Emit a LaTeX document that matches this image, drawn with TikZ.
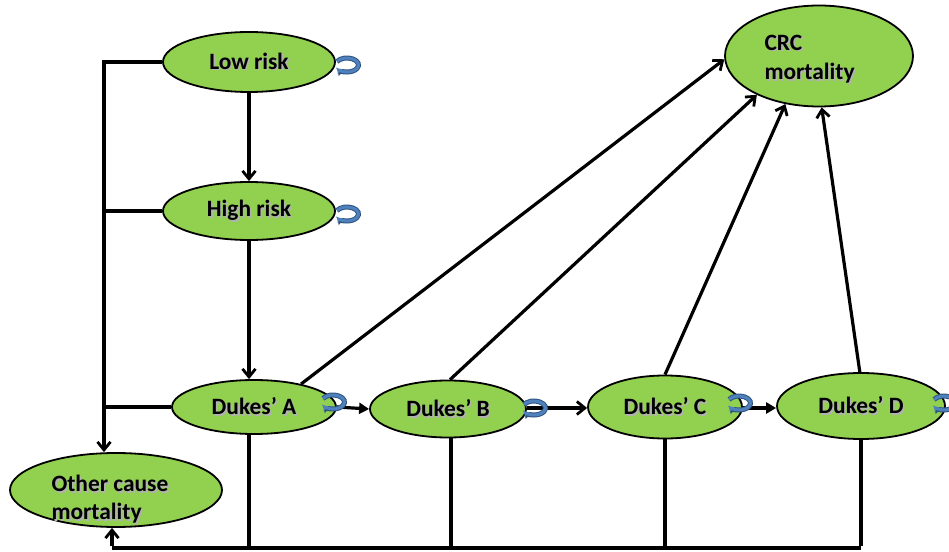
\documentclass[tikz,border=0pt]{standalone}
\usepackage{fontspec}
\setmainfont{Carlito}
\usetikzlibrary{arrows.meta,shapes.geometric,calc}
\definecolor{stategreen}{HTML}{92D050}
\definecolor{loopblue}{HTML}{4F81BD}
\definecolor{loopedge}{HTML}{2F5482}
% bold label with a soft drop shadow
\newcommand\shd[1]{\leavevmode\rlap{\kern1.6bp\raisebox{-1.6bp}{\textcolor{black!30}{#1}}}#1}
\tikzset{
  state/.style={ellipse,draw=black,line width=1.8bp,fill=stategreen,inner sep=0pt,
    font=\bfseries\fontsize{23.5}{28}\selectfont,text=black},
  link/.style={line width=3.2bp,draw=black},
  arr/.style={link,-{Straight Barb[length=8bp,width=13bp,line width=2.8bp]}},
  arrf/.style={link,-{Triangle[length=10bp,width=11bp]}},
}
% small circular self-transition arrow centred at #1
\newcommand\selfloop[1]{%
  \draw[line width=5bp,loopedge,-{Triangle[length=5.5bp,width=9bp]}]
    ($#1+(150:11.5bp and 7bp)$) arc[start angle=150,end angle=-145,x radius=11.5bp,y radius=7bp];
  \draw[line width=3bp,loopblue,-{Triangle[length=4bp,width=6.5bp]}]
    ($#1+(150:11.5bp and 7bp)$) arc[start angle=150,end angle=-148,x radius=11.5bp,y radius=7bp];
}
\begin{document}
\begin{tikzpicture}[x=1bp,y=-1bp]
\useasboundingbox (0,0) rectangle (949,552);

% states
\node[state,minimum width=172bp,minimum height=60bp] (lr) at (249,62) {\shd{Low risk}};
\node[state,minimum width=172bp,minimum height=58bp] (hr) at (249,211) {\shd{High risk}};
\node[state,minimum width=164bp,minimum height=54bp] (da) at (254,407) {\shd{Dukes’ A}};
\node[state,minimum width=156bp,minimum height=57bp] (db) at (448,409) {\shd{Dukes’ B}};
\node[state,minimum width=154bp,minimum height=63bp] (dc) at (665,407) {\shd{Dukes’ C}};
\node[state,minimum width=168bp,minimum height=66bp] (dd) at (861,406) {\shd{Dukes’ D}};
\node[state,minimum width=212bp,minimum height=74bp] (oc) at (116,490) {};
\node[font=\bfseries\fontsize{23.5}{28}\selectfont,align=left,anchor=west] (octext) at (48,500)
  {\shd{Other cause}\\\shd{mortality}};
\node[state,minimum width=188bp,minimum height=101bp] (crc) at (819,56) {};
\node[font=\bfseries\fontsize{23.5}{30}\selectfont,align=left,anchor=west] (crctext) at (761,60)
  {\shd{CRC}\\\shd{mortality}};

% bus coordinates
\coordinate (lbus) at (104,62);
\coordinate (bbus) at (112,548);

% progression
\draw[arr] (lr.south) -- (hr.north);
\draw[arr] (hr.south) -- (hr.south |- da.north);
\draw[arrf] (da.east) -- (db.west);
\draw[arr] (db.east |- 0,408) -- (dc.west |- 0,408);
\draw[arrf] (dc.east |- 0,408) -- (dd.west |- 0,408);

% to CRC mortality
\draw[arr] (da.26) -- (crc.182);
\draw[arr] (db.86) -- (crc.212);
\draw[arr] (dc.90) -- (crc.235);
\draw[arr] (dd.92) -- (crc.273);

% to other cause mortality (left bus)
\draw[link] (lr.west) -- (lbus);
\draw[link] (hr.west) -- (hr.west -| lbus);
\draw[link] (da.west) -- (da.west -| lbus);
\draw[arr] ([yshift=1.6bp]lbus) -- (oc.north -| lbus);

% to other cause mortality (bottom bus)
\draw[link] (da.south -| hr.south) -- (bbus -| hr.south);
\draw[link] (db.south -| 451,0) -- (bbus -| 451,0);
\draw[link] (dc.south) -- (bbus -| dc.south);
\draw[link] (dd.south) -- ([yshift=1.6bp]bbus -| dd.south);
\draw[link] (bbus -| dd.south) -- (bbus);
\draw[arr] ([yshift=1.6bp]bbus) -- (bbus |- oc.south);

% self transitions
\selfloop{(347,65)}
\selfloop{(347,214)}
\selfloop{(333,402)}
\selfloop{(534,408)}
\selfloop{(739,403)}
\selfloop{(944,403)}
\end{tikzpicture}
\end{document}
